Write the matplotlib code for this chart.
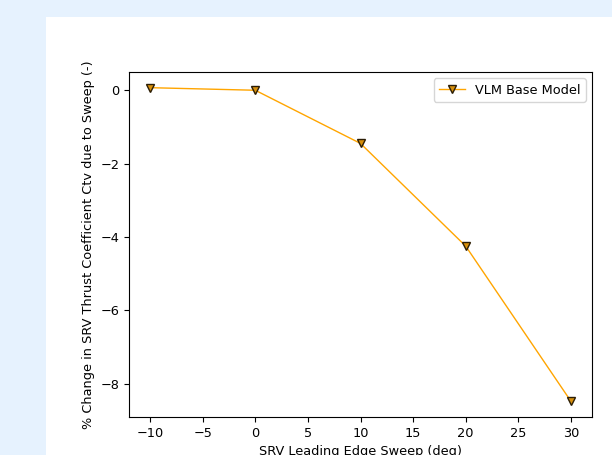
import matplotlib
matplotlib.use('Agg')
import matplotlib.pyplot as plt
from matplotlib.patches import Rectangle

sweep = [-10, 0, 10, 20, 30]
thrust_change = [0.07, 0.0, -1.45, -4.25, -8.48]
series_label = 'VLM Base Model'

plt.rcParams['font.size'] = 9.3

fig = plt.figure(figsize=(6.12, 4.55), dpi=100)
fig.patch.set_facecolor('#e6f2fe')
# white panel the chart sits on, kept behind the axes
fig.patches.append(Rectangle((46 / 612, 0), 1 - 46 / 612, 1 - 17 / 455,
                             transform=fig.transFigure, facecolor='white',
                             edgecolor='none', zorder=-10))

ax = fig.add_axes([129 / 612, 38 / 455, 463 / 612, 345 / 455])
ax.plot(sweep, thrust_change, color='orange', linewidth=1.0, marker='v',
        markersize=5.6, markerfacecolor='#d68f0c', markeredgecolor='#2b1d05',
        label=series_label)
ax.legend(loc='upper right')
ax.set_xlabel('SRV Leading Edge Sweep (deg)')
ax.set_ylabel('% Change in SRV Thrust Coefficient Ctv due to Sweep (-)')
ax.set_yticks([0, -2, -4, -6, -8])

plt.savefig('out.png', dpi=100, facecolor=fig.get_facecolor())
